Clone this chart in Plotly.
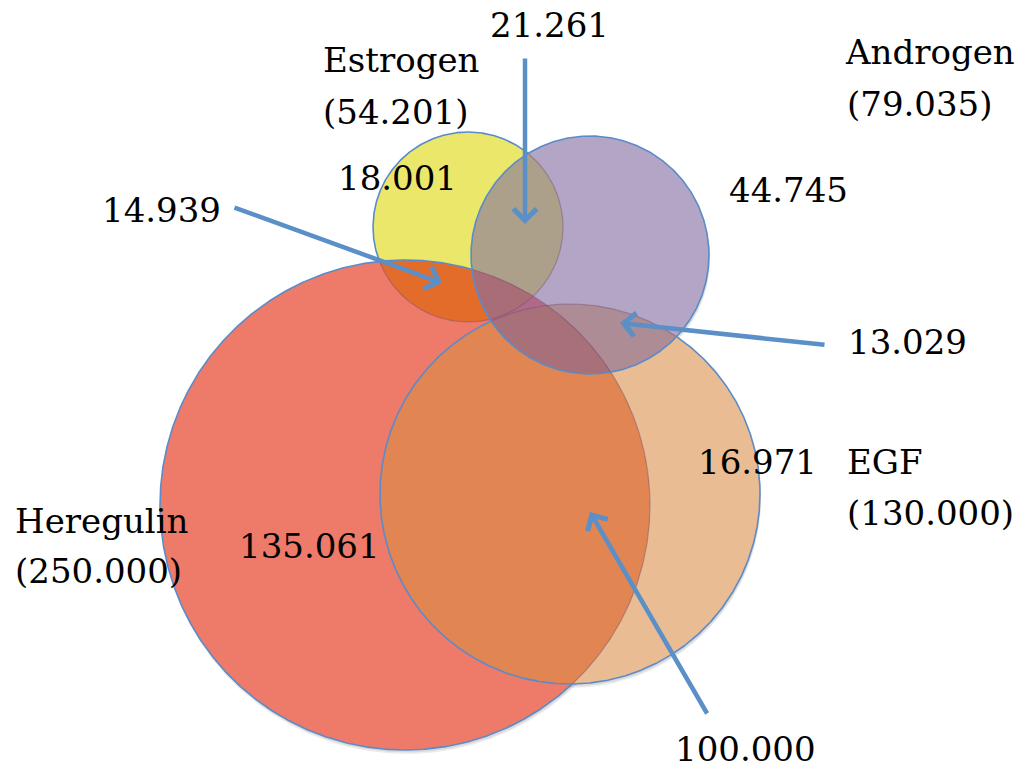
import numpy as np
import plotly.graph_objects as go

# ---------------- data ----------------
set_names = ["Estrogen", "Heregulin", "EGF", "Androgen"]
set_sizes = [54201, 250000, 130000, 79035]
# region counts
region_names = ["Estrogen only", "Estrogen∩Androgen", "Estrogen∩Heregulin", "Androgen only",
                "Androgen∩EGF", "Heregulin only", "Heregulin∩EGF", "EGF only"]
region_values = [18001, 21261, 14939, 44745, 13029, 135061, 100000, 16971]


def fmt(v):
    return f"{v:,}".replace(",", ".")


# ---------------- geometry / style (pixels of the 1024x769 canvas) ----------------
cx = [468, 405, 570, 590]
cy = [227, 505, 494, 255]
rr = [95, 245, 190, 119]
base_colors = ["#EAE76A", "#EE7A6A", "#E9BC93", "#B3A5C5"]
# overlap fills: (indices, colour)
overlap_fills = [
    ((1, 2), "#E18553"),
    ((0, 3), "#ACA08A"),
    ((0, 1), "#E46C2B"),
    ((2, 3), "#AE8C95"),
    ((1, 3), "#B0698A"),
    ((1, 2, 3), "#A87078"),
    ((0, 1, 3), "#A86D77"),
]
outline_color = "#5B8BC9"
covered_color = "rgba(120,80,110,0.45)"
arrow_color = "#5B8FC8"
FONT = "DejaVu Serif"
FS = 34
PAGE_MARGIN = 8  # default body margin of the html page


def circle_pts(i, n=900):
    t = np.linspace(0, 2 * np.pi, n, endpoint=False)
    return cx[i] + rr[i] * np.cos(t), cy[i] + rr[i] * np.sin(t)


def inside(x, y, j, tol=0.3):
    return (x - cx[j]) ** 2 + (y - cy[j]) ** 2 <= (rr[j] + tol) ** 2


def intersection(idx):
    xs, ys = [], []
    for i in idx:
        x, y = circle_pts(i)
        m = np.ones_like(x, dtype=bool)
        for j in idx:
            if j != i:
                m &= inside(x, y, j)
        xs.append(x[m])
        ys.append(y[m])
    X = np.concatenate(xs)
    Y = np.concatenate(ys)
    a = np.arctan2(Y - Y.mean(), X - X.mean())
    o = np.argsort(a)
    return np.append(X[o], X[o][0]), np.append(Y[o], Y[o][0])


fig = go.Figure()


def poly(x, y, color):
    fig.add_trace(go.Scatter(x=x, y=y, mode="lines", fill="toself", fillcolor=color,
                             line=dict(width=0, color="rgba(0,0,0,0)"), hoverinfo="skip"))


# shadows
for i in range(4):
    x, y = circle_pts(i)
    for dx, dy, a in [(1, 4, 0.07), (1, 2.5, 0.08)]:
        poly(np.append(x, x[0]) + dx, np.append(y, y[0]) + dy, f"rgba(0,0,0,{a})")

# base circles
for i in range(4):
    x, y = circle_pts(i)
    poly(np.append(x, x[0]), np.append(y, y[0]), base_colors[i])

# overlaps
for idx, col in overlap_fills:
    X, Y = intersection(idx)
    poly(X, Y, col)

# outlines (layer order: Estrogen, Heregulin, EGF, Androgen)
for i in range(4):
    x, y = circle_pts(i, 1440)
    x = np.append(x, x[0])
    y = np.append(y, y[0])
    cov = np.zeros_like(x, dtype=bool)
    for j in range(i + 1, 4):
        cov |= inside(x, y, j, tol=-0.5)
    for flag, col, w in [(False, outline_color, 1.6), (True, covered_color, 1.2)]:
        xs = np.where(cov == flag, x, np.nan)
        ys = np.where(cov == flag, y, np.nan)
        fig.add_trace(go.Scatter(x=xs, y=ys, mode="lines", line=dict(color=col, width=w),
                                 connectgaps=False, hoverinfo="skip"))

# ---------------- text labels ----------------
texts = [
    (set_names[0], 321, 60),
    (f"({fmt(set_sizes[0])})", 321, 112),
    (set_names[3], 843, 52),
    (f"({fmt(set_sizes[3])})", 845, 104),
    (set_names[1], 13, 521),
    (f"({fmt(set_sizes[1])})", 13, 571),
    (set_names[2], 845, 462),
    (f"({fmt(set_sizes[2])})", 845, 513),
    (fmt(region_values[0]), 336, 178),
    (fmt(region_values[1]), 488, 25),
    (fmt(region_values[2]), 100, 210),
    (fmt(region_values[3]), 727, 190),
    (fmt(region_values[4]), 846, 342),
    (fmt(region_values[5]), 237, 546),
    (fmt(region_values[6]), 673, 749),
    (fmt(region_values[7]), 696, 462),
]
for t, x, y in texts:
    fig.add_annotation(x=x, y=y, text=t, showarrow=False, xanchor="left", yanchor="middle",
                       font=dict(family=FONT, size=FS, color="black"))

# ---------------- arrows (tip, tail) ----------------
arrows = [
    (525, 224, 525, 57),
    (442, 283, 233, 207),
    (620, 323, 826, 345),
    (590, 512, 708, 715),
]
for x, y, ax, ay in arrows:
    fig.add_annotation(x=x, y=y, ax=ax, ay=ay, xref="x", yref="y", axref="x", ayref="y",
                       text="", showarrow=True, arrowhead=4, arrowsize=1.0, arrowwidth=4.5,
                       arrowcolor=arrow_color, standoff=0)

W, H = 1024 - 2 * PAGE_MARGIN, 769 - 2 * PAGE_MARGIN
fig.update_xaxes(range=[PAGE_MARGIN, PAGE_MARGIN + W], visible=False, fixedrange=True)
fig.update_yaxes(range=[PAGE_MARGIN + H, PAGE_MARGIN], visible=False, fixedrange=True)
fig.update_layout(width=W, height=H, margin=dict(l=0, r=0, t=0, b=0),
                  plot_bgcolor="white", paper_bgcolor="white", showlegend=False)

fig.write_html("out.html")
